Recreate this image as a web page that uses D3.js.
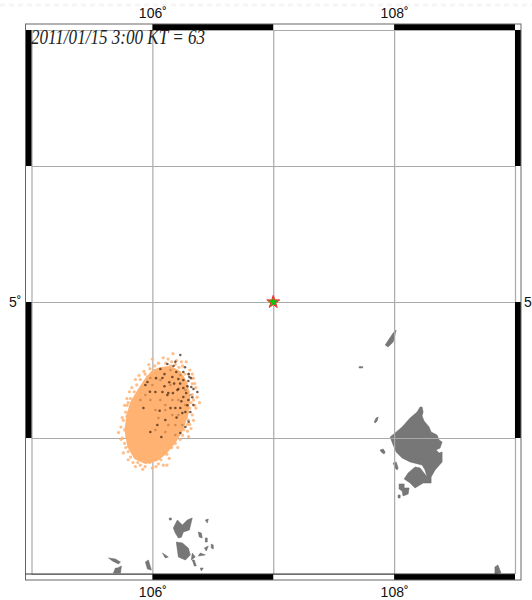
<!DOCTYPE html>
<html>
<head>
<meta charset="utf-8">
<script src="https://cdn.jsdelivr.net/npm/d3@7"></script>
<style>
  html, body { margin: 0; padding: 0; background: #fff; }
  svg { display: block; }
  .tick text { font-family: "Liberation Sans", Arial, sans-serif; font-size: 14px; fill: #111; }
</style>
</head>
<body>
<div id="chart"></div>
<script>
const title = '2011/01/15 3:00 KT = 63';
const gridLon = [105, 106, 107, 108, 109];
const gridLat = [3, 4, 5, 6, 7];
const labelLon = [106, 108];
const labelLat = [5];
const blackLon = [[106, 107], [108, 109]];
const blackLat = [[6, 7], [4, 5]];
const source = [107, 5];

// dense part of the cloud, outline
const cloudCore = [[106.066,4.522],[106.149,4.529],[106.231,4.492],[106.289,4.412],[106.314,4.294],[106.297,4.169],
  [106.256,4.059],[106.190,3.963],[106.116,3.882],[106.041,3.831],[105.942,3.809],[105.851,3.846],[105.793,3.934],
  [105.769,4.059],[105.785,4.169],[105.818,4.265],[105.876,4.353],[105.942,4.441],[106.000,4.500]];

const darkPoints = [[106.231,4.610],[106.124,4.544],[106.066,4.507],[106.174,4.529],[106.198,4.485],[106.256,4.485],
  [106.306,4.449],[106.298,4.419],[106.256,4.426],[106.215,4.434],[106.372,4.338],[106.322,4.375],[106.256,4.368],
  [106.215,4.360],[106.132,4.331],[106.083,4.338],[106.025,4.338],[105.959,4.412],[105.942,4.390],[106.165,4.449],
  [106.083,4.441],[105.926,4.221],[106.231,4.221],[106.190,4.221],[106.273,4.191],[106.314,4.191],[106.248,4.184],
  [106.339,4.243],[106.107,4.132],[106.041,4.096],[106.074,4.007],[105.983,4.044],[106.273,4.081],[106.231,4.037],
  [106.124,4.316],[106.256,4.301],[106.298,4.279],[106.207,4.353],[106.30,4.47],[106.27,4.52],[106.19,4.56],
  [106.10,4.47],[106.03,4.44],[106.14,4.41],[106.28,4.33],[106.34,4.36],[106.33,4.30],[106.29,4.24],[106.24,4.27],
  [106.17,4.33],[106.10,4.38],[106.20,4.15],[106.30,4.12],[106.15,4.22],[106.06,4.20],[105.98,4.34],[106.32,4.44],
  [106.23,4.40],[106.29,4.38],[106.18,4.40]];

const fadedPoints = [[106.149,4.390],[106.066,4.279],[106.025,4.206],[106.165,4.279],[106.215,4.169],[106.107,4.243],
  [105.983,4.279],[106.132,4.096],[106.190,4.096],[106.273,4.353],[106.314,4.316],[106.231,4.463],[106.149,4.500],
  [106.066,4.426],[106.000,4.390],[106.107,4.206],[106.165,4.169],[106.215,4.279],[106.050,4.147],[106.107,4.044],
  [106.025,4.059],[105.942,4.316],[105.901,4.279],[105.983,4.441],[106.273,4.243],[106.298,4.132],[106.248,4.096],
  [106.190,4.022]];

const orangePoints = [[106.17,4.62],[106.09,4.59],[106.02,4.53],[106.13,4.58],[106.20,4.57],[106.28,4.56],[105.98,4.51],
  [105.94,4.47],[106.05,4.55],[106.16,4.56],[106.25,4.53],[106.31,4.50],[106.34,4.44],[106.35,4.40],[106.36,4.37],
  [106.33,4.32],[106.34,4.28],[106.36,4.22],[106.32,4.26],[106.33,4.17],[106.31,4.10],[106.29,4.05],[106.26,4.06],
  [106.28,4.15],[106.23,3.99],[106.19,3.96],[106.16,3.93],[106.12,3.88],[106.07,3.84],[106.09,3.80],[106.03,3.79],
  [105.98,3.82],[105.94,3.79],[105.90,3.80],[105.88,3.82],[105.84,3.82],[105.82,3.86],[105.80,3.90],[105.78,3.93],
  [105.77,3.96],[105.75,4.00],[105.79,4.01],[105.77,4.06],[105.76,4.13],[105.78,4.19],[105.75,4.15],[105.79,4.24],
  [105.82,4.29],[105.80,4.26],[105.85,4.34],[105.87,4.39],[105.90,4.43],[105.86,4.43],[105.93,4.49],[105.96,4.45],
  [105.79,4.16],[105.81,4.34],[105.91,4.37],[106.07,4.49],[106.13,4.46],[106.19,4.44],[106.26,4.39],[106.30,4.34],
  [106.28,4.29],[106.31,4.22],[106.29,4.19],[106.23,4.13],[106.29,4.10],[106.15,4.53],[106.22,4.52],[106.27,4.47],
  [106.33,4.40],[106.10,4.50],[106.11,4.55],[106.19,4.54],[106.24,4.56],[106.30,4.47],[106.33,4.47],[106.37,4.30],
  [106.35,4.24],[106.34,4.13],[106.32,4.07],[106.25,4.02],[106.21,3.93],[106.14,3.85],[106.05,3.81],[106.00,3.78],
  [105.92,3.77],[105.86,3.79],[105.80,3.84],[105.76,3.89],[105.74,3.99],[105.74,4.08],[105.77,4.24],[105.79,4.29],
  [105.83,4.37],[105.89,4.46],[105.97,4.54],[106.00,4.58],[106.39,4.26],[106.30,4.01],[105.72,4.04],[106.12,3.80]];

const landMain = [[108.215,4.228],[108.231,4.228],[108.240,4.191],[108.231,4.162],[108.248,4.125],[108.289,4.081],
  [108.306,4.044],[108.355,4.022],[108.372,3.985],[108.397,3.971],[108.380,3.926],[108.347,3.912],[108.372,3.890],
  [108.397,3.897],[108.397,3.824],[108.339,3.765],[108.306,3.713],[108.306,3.669],[108.240,3.669],[108.173,3.633],
  [108.132,3.669],[108.083,3.699],[108.116,3.743],[108.173,3.787],[108.215,3.780],[108.273,3.713],[108.256,3.765],
  [108.231,3.802],[108.132,3.824],[108.066,3.853],[108.017,3.897],[107.992,3.949],[107.967,4.007],[108.008,4.037],
  [108.066,4.081],[108.132,4.147],[108.190,4.191]];

const landIslets = [
  [[107.926,4.684],[107.992,4.772],[108.017,4.794],[107.992,4.706],[107.950,4.669]],
  [[107.71,4.525],[107.74,4.525],[107.74,4.515],[107.71,4.515]],
  [[107.835,4.118],[107.851,4.147],[107.868,4.154],[107.860,4.125],[107.843,4.110]],
  [[107.884,3.912],[107.909,3.919],[107.926,3.897],[107.917,3.882],[107.893,3.897]],
  [[107.992,3.816],[108.017,3.824],[108.033,3.780],[108.025,3.765],[108.008,3.780]],
  [[108.041,3.662],[108.083,3.662],[108.083,3.633],[108.124,3.633],[108.116,3.588],[108.074,3.574],[108.066,3.610],[108.041,3.625]],
  [[108.033,3.581],[108.050,3.581],[108.050,3.559],[108.033,3.559]],
  [[108.834,3.052],[108.859,3.067],[108.884,3.008],[108.834,3.0]],
  [[105.637,3.118],[105.694,3.110],[105.736,3.088],[105.719,3.074],[105.670,3.096]],
  [[105.678,3.007],[105.694,3.044],[105.711,3.044],[105.744,3.059],[105.736,3.007]],
  [[105.942,3.088],[105.967,3.103],[105.992,3.029],[105.959,3.037]],
  [[106.173,3.338],[106.207,3.397],[106.248,3.360],[106.289,3.397],[106.330,3.412],[106.306,3.323],[106.256,3.309],[106.240,3.270],[106.215,3.265],[106.190,3.301]],
  [[106.198,3.235],[106.248,3.228],[106.297,3.191],[106.314,3.140],[106.273,3.103],[106.215,3.125]],
  [[106.330,3.154],[106.355,3.125],[106.322,3.103]],
  [[106.396,3.154],[106.438,3.140],[106.380,3.132]],
  [[106.083,3.154],[106.132,3.125],[106.107,3.118]],
  [[106.380,3.309],[106.405,3.301],[106.413,3.265],[106.388,3.272]],
  [[106.438,3.265],[106.454,3.265],[106.454,3.235],[106.438,3.235]],
  [[106.487,3.220],[106.504,3.213],[106.504,3.184],[106.487,3.191]],
  [[106.438,3.397],[106.463,3.404],[106.454,3.375]],
  [[106.140,3.412],[106.157,3.412],[106.157,3.397],[106.140,3.397]],
  [[106.396,3.044],[106.421,3.044],[106.405,3.022]],
  [[106.330,3.103],[106.347,3.103],[106.363,3.059],[106.347,3.059]],
  [[106.430,3.191],[106.463,3.206],[106.446,3.169]]
];

const width = 532, height = 600;
const band = 6;
const x = d3.scaleLinear().domain([105, 109]).range([31.5, 515]);
const y = d3.scaleLinear().domain([3, 7]).range([574, 30]);
const [x0, x1] = x.range();
const [y0, y1] = y.range();
const deg = d => d + '˚';

const svg = d3.select('#chart').append('svg').attr('width', width).attr('height', height);

// faint strip along the top of the page
svg.append('line').attr('x1', 0).attr('x2', width).attr('y1', 5).attr('y2', 5)
  .attr('stroke', '#f5f5f5').attr('stroke-width', 3).attr('stroke-dasharray', '5 4');

// land
const line = d3.line().x(d => x(d[0])).y(d => y(d[1])).curve(d3.curveLinearClosed);
svg.append('g').selectAll('path').data([landMain, ...landIslets]).join('path')
  .attr('d', line).attr('fill', '#777').attr('stroke', '#666').attr('stroke-width', 0.5);

// grid
svg.append('g').attr('transform', `translate(0,${y0})`)
  .call(d3.axisBottom(x).tickValues(gridLon).tickSize(y1 - y0).tickFormat(''))
  .call(g => g.select('.domain').remove())
  .selectAll('line').attr('stroke', '#aaa').attr('stroke-width', 1.2);
svg.append('g').attr('transform', `translate(${x0},0)`)
  .call(d3.axisRight(y).tickValues(gridLat).tickSize(x1 - x0).tickFormat(''))
  .call(g => g.select('.domain').remove())
  .selectAll('line').attr('stroke', '#aaa').attr('stroke-width', 1.2);

// source cloud
const cloud = svg.append('g');
cloud.append('path').datum(cloudCore).attr('d', line).attr('fill', '#ffb272');
cloud.selectAll('.orange').data(orangePoints).join('circle').attr('class', 'orange')
  .attr('cx', d => x(d[0])).attr('cy', d => y(d[1])).attr('r', 1.6)
  .attr('fill', '#ffb272').attr('opacity', 0.85);
cloud.selectAll('.faded').data(fadedPoints).join('circle').attr('class', 'faded')
  .attr('cx', d => x(d[0])).attr('cy', d => y(d[1])).attr('r', 1.3)
  .attr('fill', '#9a5a28').attr('opacity', 0.45);
cloud.selectAll('.dark').data(darkPoints).join('circle').attr('class', 'dark')
  .attr('cx', d => x(d[0])).attr('cy', d => y(d[1])).attr('r', 1.3)
  .attr('fill', '#4a2a14').attr('opacity', 0.75);

// star at the release point
svg.append('path')
  .attr('d', d3.symbol().type(d3.symbolStar).size(52)())
  .attr('transform', `translate(${x(source[0])},${y(source[1])})`)
  .attr('fill', '#10c410').attr('stroke', '#ff2a2a').attr('stroke-width', 1);

// frame bands
const frame = svg.append('g');
blackLon.forEach(([a, b]) => {
  frame.append('rect').attr('x', x(a)).attr('width', x(b) - x(a)).attr('y', y1 - band).attr('height', band);
  frame.append('rect').attr('x', x(a)).attr('width', x(b) - x(a)).attr('y', y0).attr('height', band);
});
blackLat.forEach(([a, b]) => {
  frame.append('rect').attr('x', x0 - band).attr('width', band).attr('y', y(b)).attr('height', y(a) - y(b));
  frame.append('rect').attr('x', x1).attr('width', band).attr('y', y(b)).attr('height', y(a) - y(b));
});
svg.append('rect').attr('x', x0 - band).attr('y', y1 - band)
  .attr('width', x1 - x0 + 2 * band).attr('height', y0 - y1 + 2 * band)
  .attr('fill', 'none').attr('stroke', '#666').attr('stroke-width', 1);
svg.append('line').attr('x1', x0 - band).attr('x2', x1).attr('y1', y0).attr('y2', y0)
  .attr('stroke', '#333').attr('stroke-width', 1);

// tick labels
const noLine = g => { g.select('.domain').remove(); g.selectAll('line').remove(); };
svg.append('g').attr('transform', `translate(0,${y1 - band})`)
  .call(d3.axisTop(x).tickValues(labelLon).tickSize(0).tickPadding(6).tickFormat(deg)).call(noLine);
svg.append('g').attr('transform', `translate(0,${y0 + band})`)
  .call(d3.axisBottom(x).tickValues(labelLon).tickSize(0).tickPadding(7).tickFormat(deg)).call(noLine);
svg.append('g').attr('transform', `translate(${x0 - band},0)`)
  .call(d3.axisLeft(y).tickValues(labelLat).tickSize(0).tickPadding(4).tickFormat(deg)).call(noLine);
// the degree sign falls off the page on this side, as in the original
svg.append('g').attr('transform', `translate(${x1 + band},0)`)
  .call(d3.axisRight(y).tickValues(labelLat).tickSize(0).tickPadding(3).tickFormat(d => d)).call(noLine);

// title
svg.append('text').attr('x', 31).attr('y', 44).text(title)
  .attr('font-family', '"Liberation Serif", "Times New Roman", serif')
  .attr('font-style', 'italic').attr('font-size', 20).attr('fill', '#222')
  .attr('textLength', 174).attr('lengthAdjust', 'spacingAndGlyphs');
</script>
</body>
</html>
